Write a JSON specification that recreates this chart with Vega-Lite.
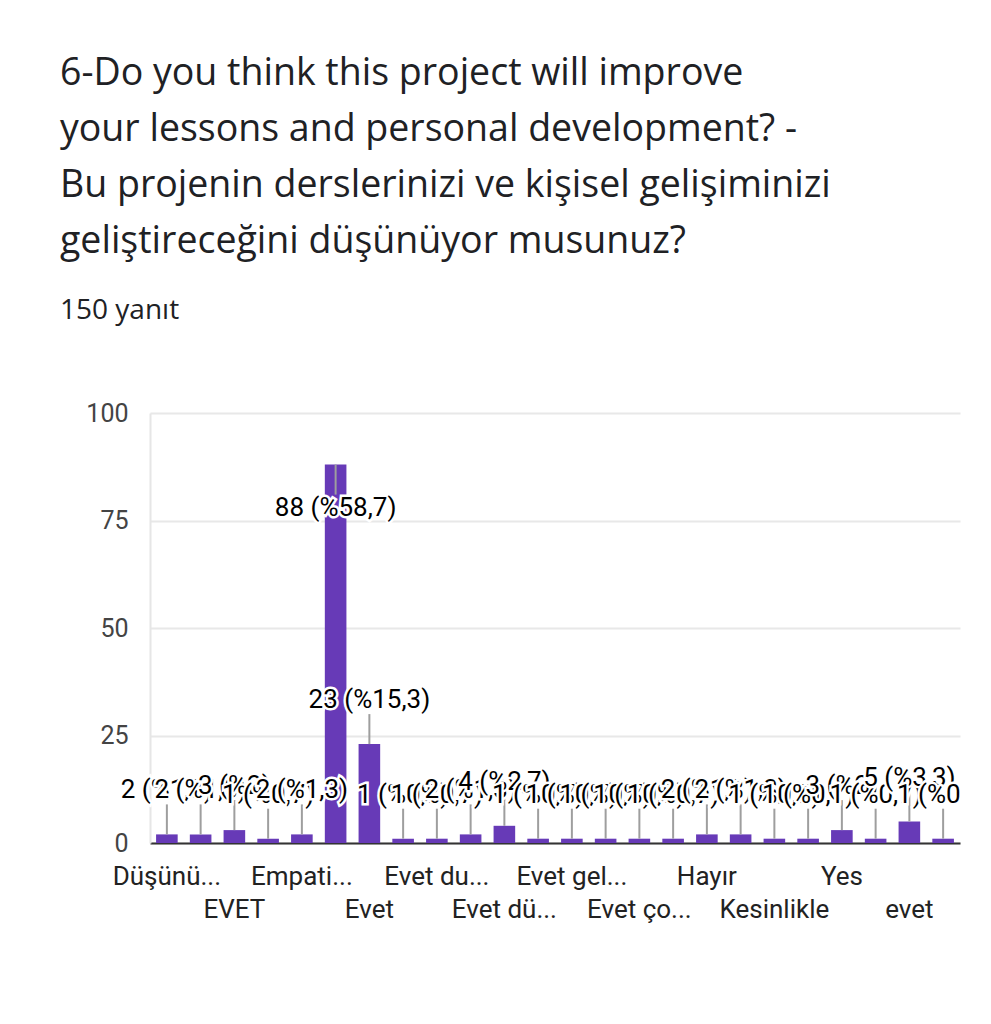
{
  "$schema": "https://vega.github.io/schema/vega-lite/v6.json",
  "autosize": {"type": "none"},
  "width": 810,
  "height": 430,
  "padding": {"left": 150, "top": 413, "right": 31, "bottom": 181},
  "background": "white",
  "config": {
    "view": {"stroke": null},
    "style": {
      "halo": {"font": "Roboto", "fontSize": 26, "baseline": "middle", "dy": -44, "stroke": "white", "strokeWidth": 5, "fill": "white"},
      "lbl": {"font": "Roboto", "fontSize": 26, "baseline": "middle", "dy": -44, "fill": "#222222"},
      "halo2": {"font": "Roboto", "fontSize": 26, "baseline": "middle", "dy": 43, "stroke": "white", "strokeWidth": 5, "fill": "white"},
      "lbl2": {"font": "Roboto", "fontSize": 26, "baseline": "middle", "dy": 43, "fill": "#222222"}
    }
  },
  "title": {
    "text": ["6-Do you think this project will improve", "your lessons and personal development? -", "Bu projenin derslerinizi ve kişisel gelişiminizi", "geliştireceğini düşünüyor musunuz?"],
    "subtitle": "150 yanıt",
    "anchor": "start",
    "frame": "group",
    "dx": -90,
    "font": "Open Sans",
    "fontSize": 37.5,
    "fontWeight": "normal",
    "color": "#202124",
    "lineHeight": 56,
    "subtitleFont": "Open Sans",
    "subtitleFontSize": 28,
    "subtitleColor": "#202124",
    "subtitlePadding": 37,
    "offset": 76
  },
  "data": {
    "values": [
      {"cevap": "Düşünü...", "sayi": 2, "etiket": "2 (%1,3)"},
      {"cevap": "Düşünüyorum", "sayi": 2, "etiket": "2 (%1,3)"},
      {"cevap": "EVET", "sayi": 3, "etiket": "3 (%2)"},
      {"cevap": "Elbette", "sayi": 1, "etiket": "1 (%0,7)"},
      {"cevap": "Empati...", "sayi": 2, "etiket": "2 (%1,3)"},
      {"cevap": "Evet, düşünüyorum", "sayi": 88, "etiket": "88 (%58,7)"},
      {"cevap": "Evet", "sayi": 23, "etiket": "23 (%15,3)"},
      {"cevap": "Evet bence", "sayi": 1, "etiket": "1 (%0,7)"},
      {"cevap": "Evet du...", "sayi": 1, "etiket": "1 (%0,7)"},
      {"cevap": "Evet elbette", "sayi": 2, "etiket": "2 (%1,3)"},
      {"cevap": "Evet dü...", "sayi": 4, "etiket": "4 (%2,7)"},
      {"cevap": "Evet faydalı", "sayi": 1, "etiket": "1 (%0,7)"},
      {"cevap": "Evet gel...", "sayi": 1, "etiket": "1 (%0,7)"},
      {"cevap": "Evet kesinlikle", "sayi": 1, "etiket": "1 (%0,7)"},
      {"cevap": "Evet ço...", "sayi": 1, "etiket": "1 (%0,7)"},
      {"cevap": "Evet, çok", "sayi": 1, "etiket": "1 (%0,7)"},
      {"cevap": "Hayır", "sayi": 2, "etiket": "2 (%1,3)"},
      {"cevap": "Hayır düşünmüyorum", "sayi": 2, "etiket": "2 (%1,3)"},
      {"cevap": "Kesinlikle", "sayi": 1, "etiket": "1 (%0,7)"},
      {"cevap": "Olabilir", "sayi": 1, "etiket": "1 (%0,7)"},
      {"cevap": "Yes", "sayi": 3, "etiket": "3 (%2)"},
      {"cevap": "Yes I do", "sayi": 1, "etiket": "1 (%0,7)"},
      {"cevap": "evet", "sayi": 5, "etiket": "5 (%3,3)"},
      {"cevap": "kesinlikle", "sayi": 1, "etiket": "1 (%0,7)"}
    ]
  },
  "encoding": {
    "x": {
      "field": "cevap",
      "type": "nominal",
      "sort": null,
      "scale": {"paddingInner": 0.36, "paddingOuter": 0.18},
      "axis": {
        "title": null,
        "labelAngle": 0,
        "ticks": false,
        "domainColor": "#333333",
        "domainWidth": 2,
        "labelFont": "Roboto",
        "labelFontSize": 26,
        "labelColor": "#222222",
        "labelPadding": 20,
        "labelLineHeight": 33,
        "labelBaseline": "top",
        "labelOverlap": false,
        "labelBound": false,
        "labelFlush": false,
        "labelLimit": 300,
        "labelExpr": "indexof(['Düşünü...','Empati...','Evet du...','Evet gel...','Hayır','Yes'], datum.value) >= 0 ? datum.value : (indexof(['EVET','Evet','Evet dü...','Evet ço...','Kesinlikle','evet'], datum.value) >= 0 ? ['', datum.value] : '')"
      }
    },
    "y": {
      "field": "sayi",
      "type": "quantitative",
      "scale": {"domain": [0, 100], "nice": false},
      "axis": {
        "title": null,
        "values": [0, 25, 50, 75, 100],
        "ticks": false,
        "domainColor": "#e6e6e6",
        "domainWidth": 2,
        "gridColor": "#e8e8e8",
        "gridWidth": 2,
        "labelFont": "Roboto",
        "labelFontSize": 25,
        "labelColor": "#444444",
        "labelPadding": 22
      }
    }
  },
  "layer": [
    {"mark": {"type": "bar", "color": "#673ab7"}},
    {
      "transform": [{"filter": "datum.sayi < 50"}],
      "mark": {"type": "rule", "color": "#9e9e9e", "strokeWidth": 2, "y2Offset": -30},
      "encoding": {"y2": {"field": "sayi"}}
    },
    {
      "transform": [{"filter": "datum.sayi >= 50"}],
      "mark": {"type": "rule", "color": "#9e9e9e", "strokeWidth": 2, "y2Offset": 30},
      "encoding": {"y2": {"field": "sayi"}}
    },
    {"transform": [{"filter": {"field": "cevap", "equal": "Düşünü..."}}], "encoding": {"text": {"field": "etiket"}}, "layer": [{"mark": {"type": "text", "style": "halo"}}, {"mark": {"type": "text", "style": "lbl"}}]},
    {"transform": [{"filter": {"field": "cevap", "equal": "Düşünüyorum"}}], "encoding": {"text": {"field": "etiket"}}, "layer": [{"mark": {"type": "text", "style": "halo"}}, {"mark": {"type": "text", "style": "lbl"}}]},
    {"transform": [{"filter": {"field": "cevap", "equal": "EVET"}}], "encoding": {"text": {"field": "etiket"}}, "layer": [{"mark": {"type": "text", "style": "halo"}}, {"mark": {"type": "text", "style": "lbl"}}]},
    {"transform": [{"filter": {"field": "cevap", "equal": "Elbette"}}], "encoding": {"text": {"field": "etiket"}}, "layer": [{"mark": {"type": "text", "style": "halo"}}, {"mark": {"type": "text", "style": "lbl"}}]},
    {"transform": [{"filter": {"field": "cevap", "equal": "Empati..."}}], "encoding": {"text": {"field": "etiket"}}, "layer": [{"mark": {"type": "text", "style": "halo"}}, {"mark": {"type": "text", "style": "lbl"}}]},
    {"transform": [{"filter": {"field": "cevap", "equal": "Evet, düşünüyorum"}}], "encoding": {"text": {"field": "etiket"}}, "layer": [{"mark": {"type": "text", "style": "halo2"}}, {"mark": {"type": "text", "style": "lbl2"}}]},
    {"transform": [{"filter": {"field": "cevap", "equal": "Evet"}}], "encoding": {"text": {"field": "etiket"}}, "layer": [{"mark": {"type": "text", "style": "halo"}}, {"mark": {"type": "text", "style": "lbl"}}]},
    {"transform": [{"filter": {"field": "cevap", "equal": "Evet bence"}}], "encoding": {"text": {"field": "etiket"}}, "layer": [{"mark": {"type": "text", "style": "halo"}}, {"mark": {"type": "text", "style": "lbl"}}]},
    {"transform": [{"filter": {"field": "cevap", "equal": "Evet du..."}}], "encoding": {"text": {"field": "etiket"}}, "layer": [{"mark": {"type": "text", "style": "halo"}}, {"mark": {"type": "text", "style": "lbl"}}]},
    {"transform": [{"filter": {"field": "cevap", "equal": "Evet elbette"}}], "encoding": {"text": {"field": "etiket"}}, "layer": [{"mark": {"type": "text", "style": "halo"}}, {"mark": {"type": "text", "style": "lbl"}}]},
    {"transform": [{"filter": {"field": "cevap", "equal": "Evet dü..."}}], "encoding": {"text": {"field": "etiket"}}, "layer": [{"mark": {"type": "text", "style": "halo"}}, {"mark": {"type": "text", "style": "lbl"}}]},
    {"transform": [{"filter": {"field": "cevap", "equal": "Evet faydalı"}}], "encoding": {"text": {"field": "etiket"}}, "layer": [{"mark": {"type": "text", "style": "halo"}}, {"mark": {"type": "text", "style": "lbl"}}]},
    {"transform": [{"filter": {"field": "cevap", "equal": "Evet gel..."}}], "encoding": {"text": {"field": "etiket"}}, "layer": [{"mark": {"type": "text", "style": "halo"}}, {"mark": {"type": "text", "style": "lbl"}}]},
    {"transform": [{"filter": {"field": "cevap", "equal": "Evet kesinlikle"}}], "encoding": {"text": {"field": "etiket"}}, "layer": [{"mark": {"type": "text", "style": "halo"}}, {"mark": {"type": "text", "style": "lbl"}}]},
    {"transform": [{"filter": {"field": "cevap", "equal": "Evet ço..."}}], "encoding": {"text": {"field": "etiket"}}, "layer": [{"mark": {"type": "text", "style": "halo"}}, {"mark": {"type": "text", "style": "lbl"}}]},
    {"transform": [{"filter": {"field": "cevap", "equal": "Evet, çok"}}], "encoding": {"text": {"field": "etiket"}}, "layer": [{"mark": {"type": "text", "style": "halo"}}, {"mark": {"type": "text", "style": "lbl"}}]},
    {"transform": [{"filter": {"field": "cevap", "equal": "Hayır"}}], "encoding": {"text": {"field": "etiket"}}, "layer": [{"mark": {"type": "text", "style": "halo"}}, {"mark": {"type": "text", "style": "lbl"}}]},
    {"transform": [{"filter": {"field": "cevap", "equal": "Hayır düşünmüyorum"}}], "encoding": {"text": {"field": "etiket"}}, "layer": [{"mark": {"type": "text", "style": "halo"}}, {"mark": {"type": "text", "style": "lbl"}}]},
    {"transform": [{"filter": {"field": "cevap", "equal": "Kesinlikle"}}], "encoding": {"text": {"field": "etiket"}}, "layer": [{"mark": {"type": "text", "style": "halo"}}, {"mark": {"type": "text", "style": "lbl"}}]},
    {"transform": [{"filter": {"field": "cevap", "equal": "Olabilir"}}], "encoding": {"text": {"field": "etiket"}}, "layer": [{"mark": {"type": "text", "style": "halo"}}, {"mark": {"type": "text", "style": "lbl"}}]},
    {"transform": [{"filter": {"field": "cevap", "equal": "Yes"}}], "encoding": {"text": {"field": "etiket"}}, "layer": [{"mark": {"type": "text", "style": "halo"}}, {"mark": {"type": "text", "style": "lbl"}}]},
    {"transform": [{"filter": {"field": "cevap", "equal": "Yes I do"}}], "encoding": {"text": {"field": "etiket"}}, "layer": [{"mark": {"type": "text", "style": "halo"}}, {"mark": {"type": "text", "style": "lbl"}}]},
    {"transform": [{"filter": {"field": "cevap", "equal": "evet"}}], "encoding": {"text": {"field": "etiket"}}, "layer": [{"mark": {"type": "text", "style": "halo"}}, {"mark": {"type": "text", "style": "lbl"}}]},
    {"transform": [{"filter": {"field": "cevap", "equal": "kesinlikle"}}], "encoding": {"text": {"field": "etiket"}}, "layer": [{"mark": {"type": "text", "style": "halo", "clip": true}}, {"mark": {"type": "text", "style": "lbl", "clip": true}}]}
  ]
}
